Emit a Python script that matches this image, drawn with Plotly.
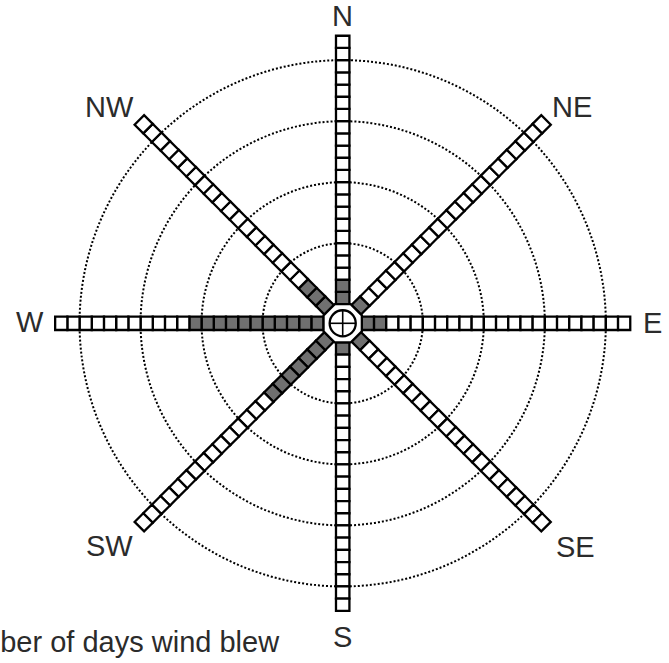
import math
import plotly.graph_objects as go

# ---- data ----
directions = ["N", "NE", "E", "SE", "S", "SW", "W", "NW"]
days_blown = [2, 1, 2, 1, 1, 7, 11, 3]
scale_squares = 22
ring_days = [5, 10, 15, 20]
key_text = "Number of days wind blew"

# ---- style ----
HUB = 1.57        # hub apothem, in square units
ARM_W = 1.1       # arm width, in square units
GRAY = "#707070"
TEXT = "#2b2b2b"
FONT = "Liberation Sans, Arial, Helvetica, sans-serif"
PX = 12.2         # pixels per square
W_PX, H_PX = 669, 663
CX, CY = 342.7, 323.3   # pixel position of rose centre
# label offsets from the rose centre, in pixels (x right, y down)
label_offsets_px = [(0, -307), (229, -216), (310, 0), (233, 224),
                    (0, 314), (-233, 223), (-313, -1), (-233, -216)]

shapes = []
# dotted rings
for d in ring_days:
    R = HUB + d
    shapes.append(dict(type="circle", xref="x", yref="y", x0=-R, x1=R, y0=-R, y1=R,
                       line=dict(color="black", width=2, dash="2px,2px"), layer="below"))

# arms of squares
for i, (name, n) in enumerate(zip(directions, days_blown)):
    th = math.radians(90 - 45 * i)
    ux, uy = math.cos(th), math.sin(th)
    px, py = -uy, ux
    for k in range(scale_squares):
        r0 = HUB + k
        r1 = r0 + 1
        corners = [(r0, -ARM_W / 2), (r1, -ARM_W / 2), (r1, ARM_W / 2), (r0, ARM_W / 2)]
        pts = [(r * ux + s * px, r * uy + s * py) for r, s in corners]
        path = "M " + " L ".join(f"{x:.4f},{y:.4f}" for x, y in pts) + " Z"
        shapes.append(dict(type="path", xref="x", yref="y", path=path,
                           fillcolor=GRAY if k < n else "white",
                           line=dict(color="black", width=2.3)))

# hub octagon
Rv = HUB / math.cos(math.radians(22.5))
oct_pts = [(Rv * math.cos(math.radians(22.5 + 45 * k)), Rv * math.sin(math.radians(22.5 + 45 * k)))
           for k in range(8)]
shapes.append(dict(type="path", xref="x", yref="y",
                   path="M " + " L ".join(f"{x:.4f},{y:.4f}" for x, y in oct_pts) + " Z",
                   fillcolor="white", line=dict(color="black", width=2.3)))
RC = 1.07
shapes.append(dict(type="circle", xref="x", yref="y", x0=-RC, x1=RC, y0=-RC, y1=RC,
                   fillcolor="white", line=dict(color="black", width=2.3)))
shapes.append(dict(type="line", xref="x", yref="y", x0=-RC, x1=RC, y0=0, y1=0,
                   line=dict(color="black", width=1.6)))
shapes.append(dict(type="line", xref="x", yref="y", x0=0, x1=0, y0=-RC, y1=RC,
                   line=dict(color="black", width=1.6)))

# direction labels
annotations = []
for name, (dx, dy) in zip(directions, label_offsets_px):
    annotations.append(dict(x=dx / PX, y=-dy / PX, xref="x", yref="y",
                            text=name, showarrow=False, xanchor="center", yanchor="middle",
                            font=dict(family=FONT, size=29, color=TEXT)))

annotations.append(dict(x=-63 / W_PX, y=1 - 642 / H_PX, xref="paper", yref="paper",
                        text=key_text, showarrow=False, xanchor="left", yanchor="middle",
                        font=dict(family=FONT, size=29, color=TEXT)))

fig = go.Figure()
fig.add_trace(go.Scatter(x=[0], y=[0], mode="markers", marker=dict(opacity=0),
                         hoverinfo="skip", showlegend=False))
fig.update_layout(
    width=W_PX, height=H_PX,
    margin=dict(l=0, r=0, t=0, b=0),
    paper_bgcolor="white", plot_bgcolor="white",
    shapes=shapes, annotations=annotations, showlegend=False,
    xaxis=dict(range=[-CX / PX, (W_PX - CX) / PX], visible=False, fixedrange=True),
    yaxis=dict(range=[-(H_PX - CY) / PX, CY / PX], visible=False, fixedrange=True),
)
fig.write_html("out.html", config={"displayModeBar": False},
               post_script="document.body.style.margin='0px';document.body.style.overflow='hidden';")
